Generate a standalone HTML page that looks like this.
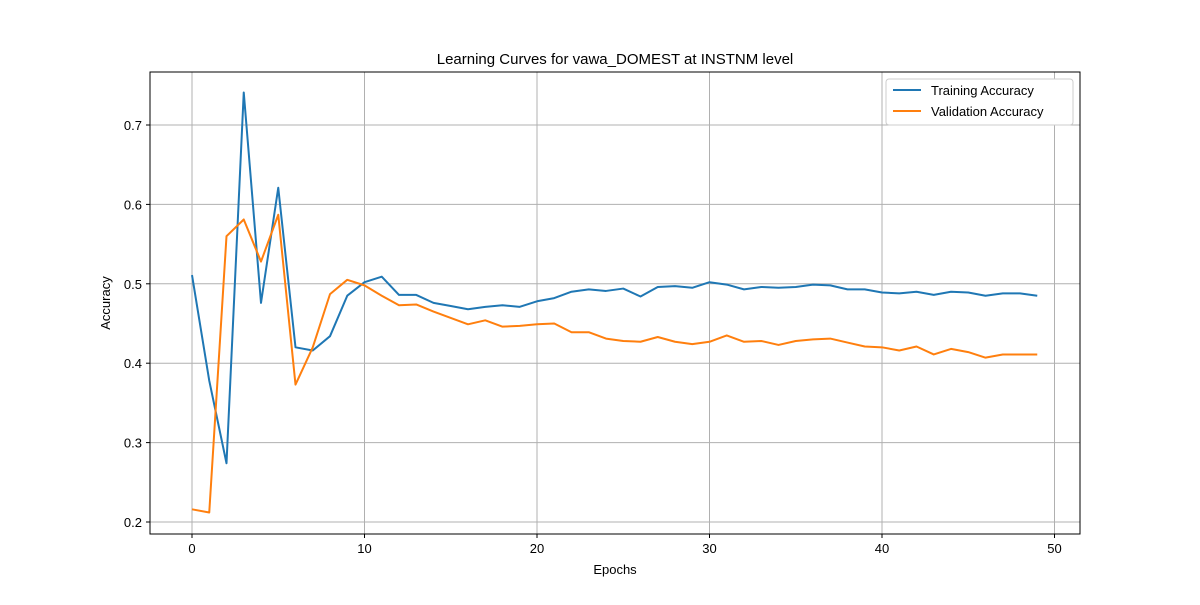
<!DOCTYPE html>
<html><head><meta charset="utf-8"><style>
body{margin:0;background:#fff;}
svg text{font-family:"Liberation Sans","DejaVu Sans",sans-serif;fill:#000;}
</style></head><body>
<svg id="chart" width="1200" height="600" xmlns="http://www.w3.org/2000/svg">
<rect width="1200" height="600" fill="#fff"/>
<g id="grid"></g>
<g id="lines"></g>
<rect x="150" y="72" width="930" height="462" fill="none" stroke="#000" stroke-width="1"/>
<g id="ticks"></g>
<text x="615" y="64" font-size="15" text-anchor="middle">Learning Curves for vawa_DOMEST at INSTNM level</text>
<text x="615" y="574" font-size="13" text-anchor="middle">Epochs</text>
<text x="110" y="303" font-size="13" text-anchor="middle" transform="rotate(-90 110 303)">Accuracy</text>
<g>
<rect x="886" y="79" width="187" height="46" rx="3" fill="#fff" stroke="#ccc"/>
<g><line x1="893" y1="90" x2="921" y2="90" stroke="#1f77b4" stroke-width="2"/><text x="931" y="95" font-size="13">Training Accuracy</text></g>
<g><line x1="893" y1="111" x2="921" y2="111" stroke="#ff7f0e" stroke-width="2"/><text x="931" y="116" font-size="13">Validation Accuracy</text></g>
</g>
</svg>
<script>
const epochs = Array.from({length:50},(_,i)=>i);
const trainAcc = [0.511,0.378,0.274,0.741,0.476,0.621,0.420,0.416,0.434,0.485,0.502,0.509,0.486,0.486,0.476,0.472,0.468,0.471,0.473,0.471,0.478,0.482,0.490,0.493,0.491,0.494,0.484,0.496,0.497,0.495,0.502,0.499,0.493,0.496,0.495,0.496,0.499,0.498,0.493,0.493,0.489,0.488,0.490,0.486,0.490,0.489,0.485,0.488,0.488,0.485];
const valAcc = [0.216,0.212,0.560,0.581,0.528,0.587,0.373,0.420,0.487,0.505,0.498,0.485,0.473,0.474,0.465,0.457,0.449,0.454,0.446,0.447,0.449,0.450,0.439,0.439,0.431,0.428,0.427,0.433,0.427,0.424,0.427,0.435,0.427,0.428,0.423,0.428,0.430,0.431,0.426,0.421,0.420,0.416,0.421,0.411,0.418,0.414,0.407,0.411,0.411,0.411];
const xTicks = [0,10,20,30,40,50];
const yTicks = [0.2,0.3,0.4,0.5,0.6,0.7];
const yTickLabels = ["0.2","0.3","0.4","0.5","0.6","0.7"];

const X = v => 192 + v*17.25;
const Y = v => 522 - (v-0.2)*794;
const NS = "http://www.w3.org/2000/svg";
const grid = document.getElementById('grid');
const ticks = document.getElementById('ticks');
const lines = document.getElementById('lines');
function mk(tag, attrs, parent){const e=document.createElementNS(NS,tag);for(const k in attrs)e.setAttribute(k,attrs[k]);parent.appendChild(e);return e;}

xTicks.forEach(t=>{
  const g = mk('line',{x1:X(t),x2:X(t),y1:72,y2:534,stroke:'#b0b0b0','stroke-width':1},grid);
  
  
  const tk = mk('line',{x1:X(t),x2:X(t),y1:534,y2:538,stroke:'#000'},ticks);
  
  
  const tx = mk('text',{x:X(t),y:553,'font-size':13,'text-anchor':'middle'},ticks);
  tx.textContent = String(t);
  
  
});
yTicks.forEach((t,i)=>{
  const g = mk('line',{x1:150,x2:1080,y1:Y(t),y2:Y(t),stroke:'#b0b0b0','stroke-width':1},grid);
  
  
  const tk = mk('line',{x1:146,x2:150,y1:Y(t),y2:Y(t),stroke:'#000'},ticks);
  
  
  const tx = mk('text',{x:142,y:Y(t)+5,'font-size':13,'text-anchor':'end'},ticks);
  tx.textContent = yTickLabels[i];
  
  
});
function series(data,color,name){
  const p = mk('polyline',{points:data.map((v,i)=>X(epochs[i])+','+Y(v)).join(' '),fill:'none',stroke:color,'stroke-width':2,'stroke-linejoin':'round'},lines);
  
  
}
series(trainAcc,'#1f77b4','training-accuracy-line');
series(valAcc,'#ff7f0e','validation-accuracy-line');
</script>
</body></html>
